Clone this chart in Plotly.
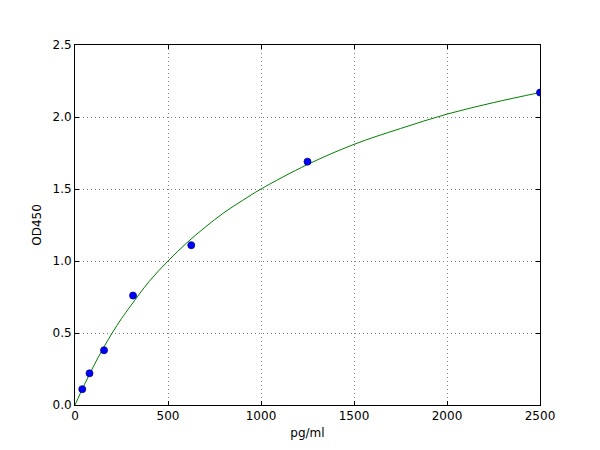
import plotly.graph_objects as go

# standard points (pg/ml vs OD450)
conc = [39, 78, 156, 312, 625, 1250, 2500]
od = [0.11, 0.22, 0.38, 0.76, 1.11, 1.69, 2.17]

# fitted curve
curve_x = [0, 50, 100, 150, 200, 250, 300, 400, 500, 600, 700, 800, 900, 1000,
           1250, 1500, 1750, 2000, 2250, 2500]
curve_y = [0.0, 0.14, 0.27, 0.39, 0.50, 0.60, 0.69, 0.86, 1.00, 1.125, 1.235, 1.335, 1.42, 1.50,
           1.67, 1.81, 1.92, 2.02, 2.10, 2.17]

xticks = [0, 500, 1000, 1500, 2000, 2500]
yticks = [0.0, 0.5, 1.0, 1.5, 2.0, 2.5]

fig = go.Figure()
fig.add_trace(go.Scatter(x=curve_x, y=curve_y, mode='lines', line_shape='spline',
                         line=dict(color='#008000', width=1), hoverinfo='skip'))
fig.add_trace(go.Scatter(x=conc, y=od, mode='markers',
                         marker=dict(color='#0000ff', size=7,
                                     line=dict(color='#000080', width=0.8))))

axis_style = dict(showline=True, linecolor='black', linewidth=1, mirror='ticks',
                  ticks='inside', ticklen=4, tickcolor='black',
                  showgrid=True, gridcolor='#808080', griddash='1px,3px', gridwidth=1,
                  zeroline=False, tickfont=dict(family='DejaVu Sans', size=12, color='black'),
                  title_font=dict(family='DejaVu Sans', size=12, color='black'))

fig.update_layout(width=600, height=450, showlegend=False,
                  paper_bgcolor='white', plot_bgcolor='white',
                  margin=dict(l=67, r=68, t=37, b=53),
                  xaxis=dict(range=[0, 2500], tickvals=xticks, ticktext=[str(v) for v in xticks],
                             title=dict(text='pg/ml', standoff=6), **axis_style),
                  yaxis=dict(range=[0, 2.5], tickvals=yticks, ticktext=['%.1f' % v for v in yticks],
                             title=dict(text='OD450', standoff=8), **axis_style))

fig.write_html("out.html")
